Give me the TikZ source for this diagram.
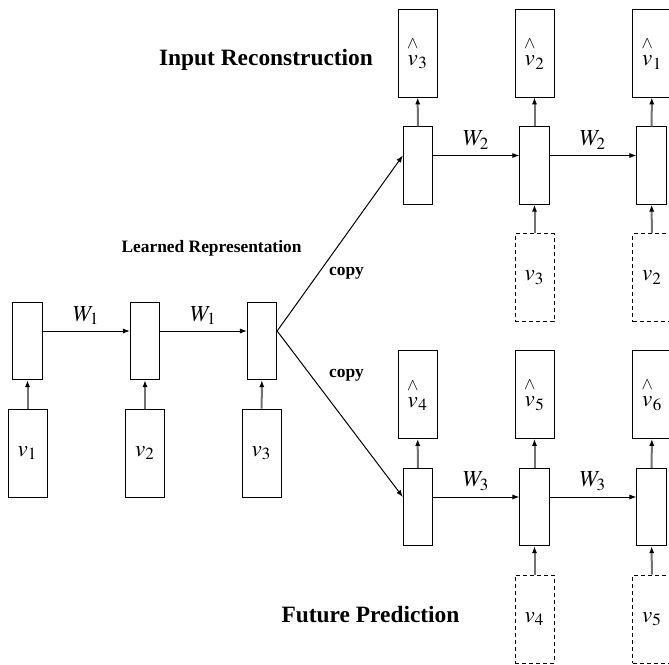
\documentclass[tikz,border=0pt]{standalone}
\usepackage{amsmath}
\usepackage{mathptmx}
\usepackage{fontspec}
\setmainfont{Liberation Serif}
\usetikzlibrary{arrows.meta}
\newcommand{\rec}[1]{$\overset{\wedge}{\vphantom{t}v}_{#1}$}
\newcommand{\inp}[1]{$v_{#1}$}

\begin{document}
\begin{tikzpicture}[x=0.5pt,y=-0.5pt,
    hid/.style={draw,minimum width=14.75pt,minimum height=38.75pt,inner sep=0pt},
    vbox/.style={draw,minimum width=19.5pt,minimum height=44pt,inner sep=0pt,font=\fontsize{11.5}{13}\selectfont},
    ghost/.style={vbox,dashed,dash pattern=on 2pt off 1.5pt},
    link/.style={-{Latex[length=3.5pt,width=2.6pt]},line width=0.5pt},
    feed/.style={-{Latex[length=3.5pt,width=2.6pt,color=black]},draw=black!55,line width=1pt},
    title/.style={font=\bfseries\fontsize{11.7}{14}\selectfont},
    tag/.style={font=\bfseries\fontsize{8.7}{10}\selectfont},
    wlab/.style={font=\fontsize{11.5}{13}\selectfont,inner sep=1pt}]
  \useasboundingbox (0,0) rectangle (669,664);

  \node[hid] (e1) at (27.5,341) {};
  \node[hid] (e2) at (145,341) {};
  \node[hid] (e3) at (262,341) {};
  \node[vbox] (x1) at (27.5,453) {\inp1};
  \node[vbox] (x2) at (145,453) {\inp2};
  \node[vbox] (x3) at (261.5,453) {\inp3};

  \node[hid] (r1) at (418,165.5) {};
  \node[hid] (r2) at (534.5,165.5) {};
  \node[hid] (r3) at (651.5,165.5) {};
  \node[vbox] (o1) at (417.5,53) {\rec3};
  \node[vbox] (o2) at (534.5,53) {\rec2};
  \node[vbox] (o3) at (652,53) {\rec1};
  \node[ghost] (g2) at (534.5,277.5) {\inp3};
  \node[ghost] (g3) at (652,277.5) {\inp2};

  \node[hid] (p1) at (418,507) {};
  \node[hid] (p2) at (534.5,507) {};
  \node[hid] (p3) at (651.5,507) {};
  \node[vbox] (q1) at (417.5,394.5) {\rec4};
  \node[vbox] (q2) at (534.5,394.5) {\rec5};
  \node[vbox] (q3) at (652,394.5) {\rec6};
  \node[ghost] (h2) at (534.5,619) {\inp4};
  \node[ghost] (h3) at (652,619) {\inp5};

  \node[title] (inrec) at (266,60) {Input Reconstruction};
  \node[tag] (learned) at (211.5,248) {Learned Representation};
  \node[tag] (copyup) at (346.5,273) {copy};
  \node[tag] (copydown) at (346.5,375) {copy};
  \node[title] (future) at (370.5,615) {Future Prediction};

  \draw[link] ([yshift=5pt]e1.east) -- node[wlab,above=2pt] {$W_1$} ([yshift=5pt]e2.west);
  \draw[link] ([yshift=5pt]e2.east) -- node[wlab,above=2pt] {$W_1$} ([yshift=5pt]e3.west);
  \draw[link] ([yshift=5pt]r1.east) -- node[wlab,above=2pt] {$W_2$} ([yshift=5pt]r2.west);
  \draw[link] ([yshift=5pt]r2.east) -- node[wlab,above=2pt] {$W_2$} ([yshift=5pt]r3.west);
  \draw[link] ([yshift=5pt]p1.east) -- node[wlab,above=2pt] {$W_3$} ([yshift=5pt]p2.west);
  \draw[link] ([yshift=5pt]p2.east) -- node[wlab,above=2pt] {$W_3$} ([yshift=5pt]p3.west);
  \draw[link] ([yshift=5pt]e3.east) -- ([yshift=5pt]r1.west);
  \draw[link] ([yshift=5pt]e3.east) -- ([yshift=5pt]p1.west);

  \draw[feed] (x1) -- (e1);
  \draw[feed] (x2) -- (e2);
  \draw[feed] (x3) -- (e3);
  \draw[feed] (r1) -- (o1);
  \draw[feed] (r2) -- (o2);
  \draw[feed] (r3) -- (o3);
  \draw[feed] (g2) -- (r2);
  \draw[feed] (g3) -- (r3);
  \draw[feed] (p1) -- (q1);
  \draw[feed] (p2) -- (q2);
  \draw[feed] (p3) -- (q3);
  \draw[feed] (h2) -- (p2);
  \draw[feed] (h3) -- (p3);
\end{tikzpicture}
\end{document}
